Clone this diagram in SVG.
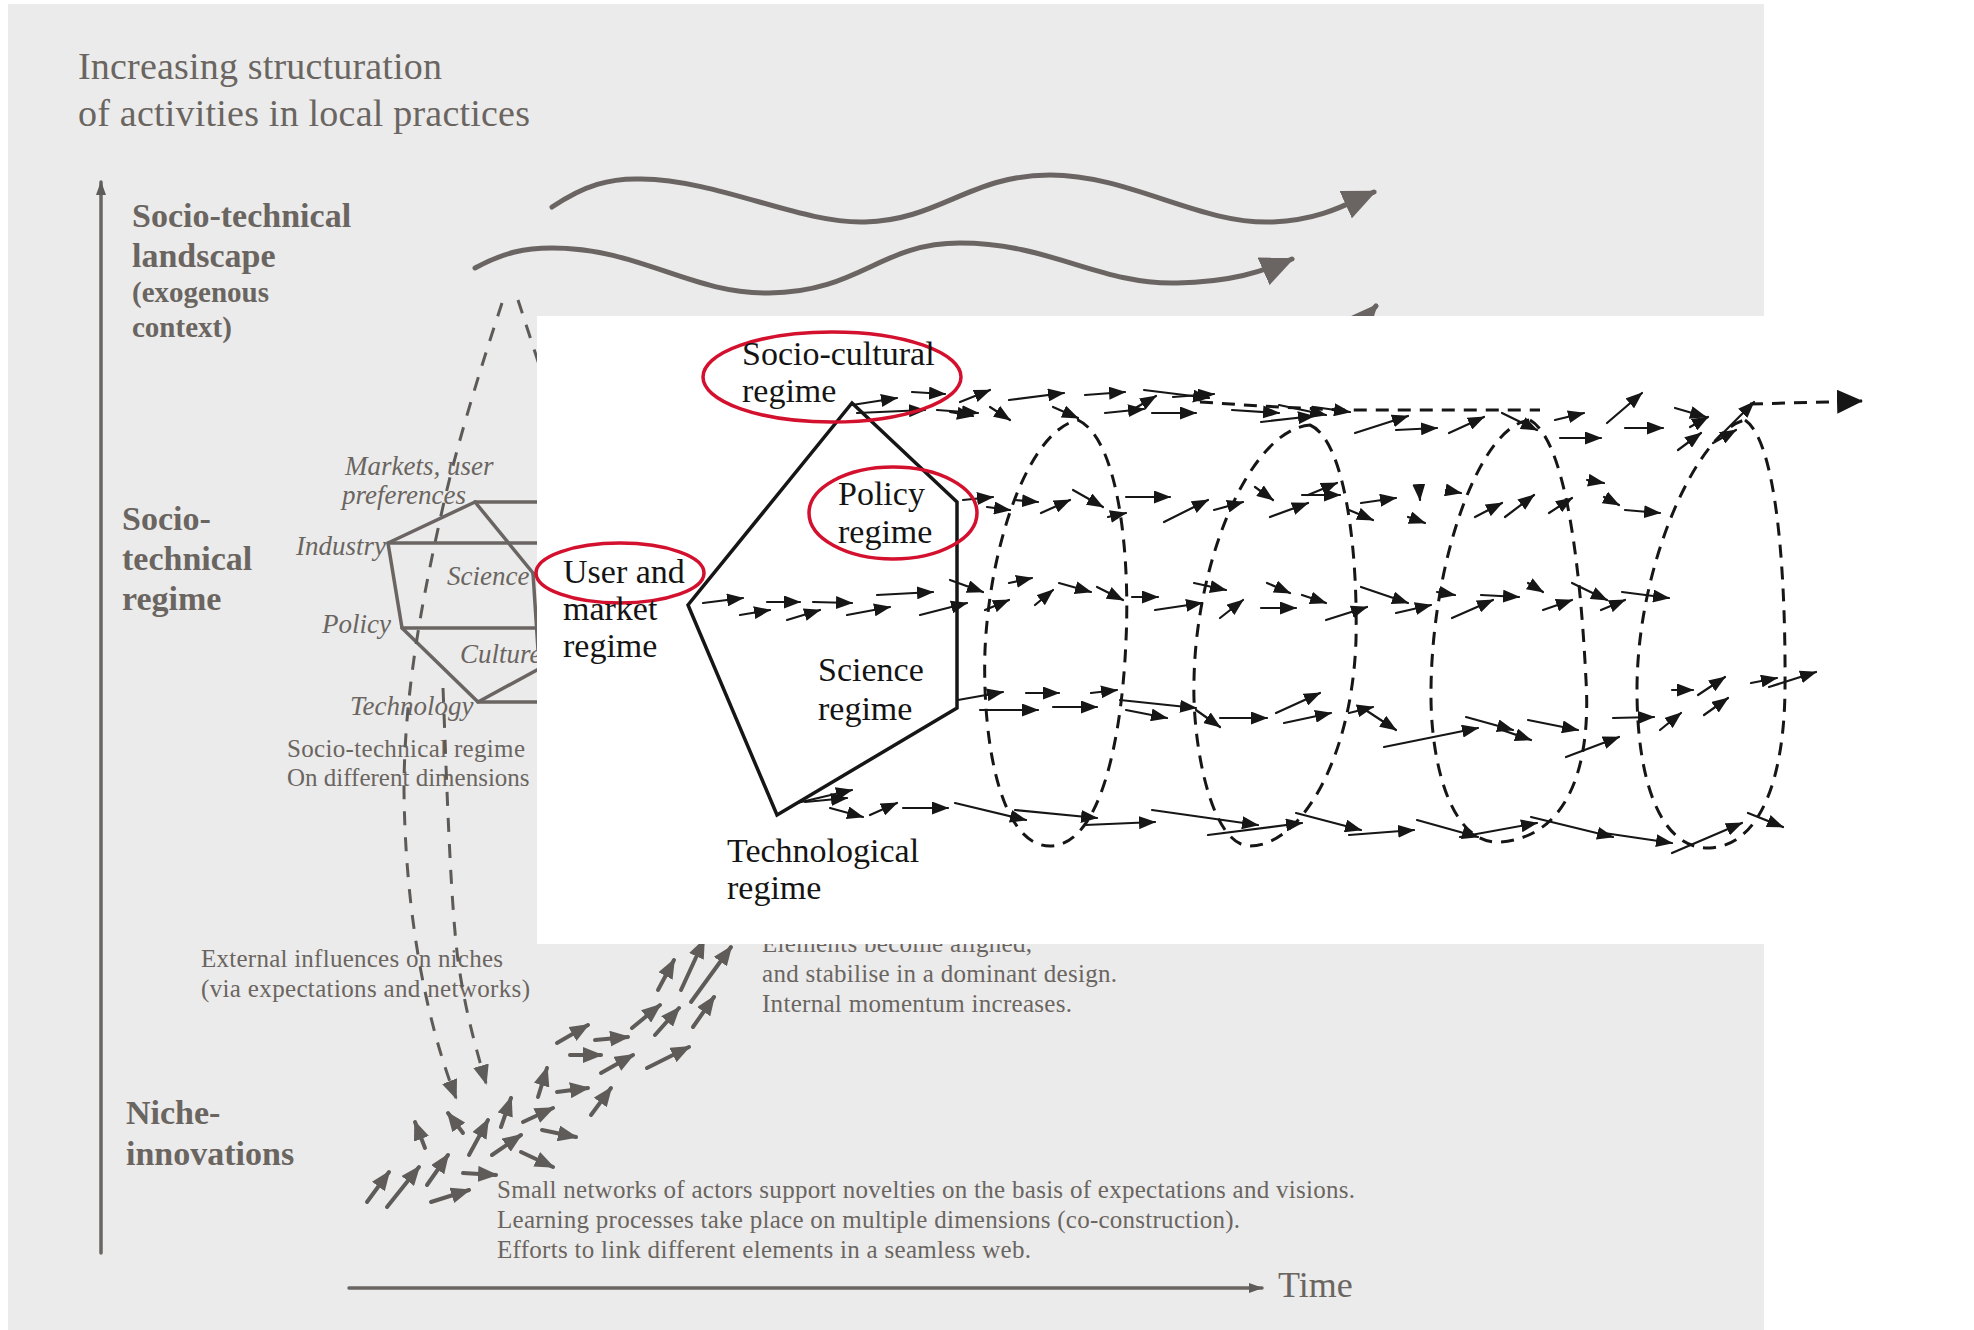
<svg xmlns="http://www.w3.org/2000/svg" width="1974" height="1330" viewBox="0 0 1974 1330">
<style>
.gt{font-family:"Liberation Serif","Times New Roman",serif;fill:#6a6560}
.gb{font-family:"Liberation Serif","Times New Roman",serif;fill:#6a6560;font-weight:bold;font-size:34px}
.gbs{font-family:"Liberation Serif","Times New Roman",serif;fill:#6a6560;font-weight:bold;font-size:29px}
.gi{font-family:"Liberation Serif","Times New Roman",serif;fill:#6a6560;font-style:italic;font-size:27px}
.bt{font-family:"Liberation Serif","Times New Roman",serif;fill:#141414;font-size:34px}
.gl{fill:none;stroke:#6a6562;stroke-width:3.5;stroke-linecap:round;stroke-linejoin:round}
.wave{fill:none;stroke:#6a6562;stroke-width:5;stroke-linecap:round}
.gd{fill:none;stroke:#5e5a58;stroke-width:3;stroke-dasharray:14 12}
.ga path{fill:none;stroke:#5f5b59;stroke-width:4;stroke-linecap:round}
.ba path{fill:none;stroke:#161616;stroke-width:2.2;stroke-linecap:round}
.td{fill:none;stroke:#161616;stroke-width:3;stroke-dasharray:13 9}
.red{fill:none;stroke:#d3102d;stroke-width:3.5}
.pent{fill:none;stroke:#161616;stroke-width:3.5;stroke-linejoin:miter}
</style>
<defs>
<marker id="ah-g" markerUnits="userSpaceOnUse" markerWidth="20" markerHeight="16" refX="18" refY="8" orient="auto"><path d="M0,0 L20,8 L0,16 z" fill="#5f5b59"/></marker>
<marker id="ah-gs" markerUnits="userSpaceOnUse" markerWidth="14" markerHeight="10" refX="13" refY="5" orient="auto"><path d="M0,0 L14,5 L0,10 z" fill="#5f5b59"/></marker>
<marker id="ah-w" markerUnits="userSpaceOnUse" markerWidth="34" markerHeight="30" refX="31" refY="15" orient="auto"><path d="M0,0 L34,15 L0,30 z" fill="#6a6562"/></marker>
<marker id="ah-b" markerUnits="userSpaceOnUse" markerWidth="17" markerHeight="13" refX="16" refY="6.5" orient="auto"><path d="M0,0 L17,6.5 L0,13 z" fill="#161616"/></marker>
<marker id="ah-big" markerUnits="userSpaceOnUse" markerWidth="26" markerHeight="24" refX="25" refY="12" orient="auto"><path d="M0,0 L26,12 L0,24 z" fill="#161616"/></marker>
</defs>

<rect x="0" y="0" width="1974" height="1330" fill="#ffffff"/>
<rect id="background" x="8" y="4" width="1756" height="1326" fill="#ebebeb"/>

<g id="axes">
<path class="gl" d="M101,1253 V182" stroke-width="2.5" marker-end="url(#ah-gs)"/>
<path class="gl" d="M349,1288 H1262" stroke-width="2.5" marker-end="url(#ah-gs)"/>
<text class="gt" x="78" y="79" font-size="38" textLength="364">Increasing structuration</text>
<text class="gt" x="78" y="126" font-size="38" textLength="452">of activities in local practices</text>
<text class="gt" x="1278" y="1297" font-size="36">Time</text>
</g>

<g id="landscape">
<text class="gb" x="132" y="227">Socio-technical</text>
<text class="gb" x="132" y="267">landscape</text>
<text class="gbs" x="132" y="302">(exogenous</text>
<text class="gbs" x="132" y="337">context)</text>
<path class="wave" d="M552,207 C585,185 610,178 641,179 C720,180 800,224 865,222 C940,220 970,175 1050,175 C1130,175 1200,225 1273,222 C1320,220 1345,205 1374,192" marker-end="url(#ah-w)"/>
<path class="wave" d="M475,268 C505,252 525,248 552,248 C640,248 690,294 769,293 C860,292 880,243 960,243 C1050,243 1100,285 1177,283 C1230,282 1262,272 1292,259" marker-end="url(#ah-w)"/>
<path class="wave" d="M560,380 C650,340 750,370 850,400 C950,430 1000,360 1080,355 C1180,350 1250,390 1310,368 C1335,358 1352,333 1376,306" marker-end="url(#ah-w)"/>
</g>

<g id="regime-gray">
<text class="gb" x="122" y="530">Socio-</text>
<text class="gb" x="122" y="570">technical</text>
<text class="gb" x="122" y="610">regime</text>
<path class="gl" d="M475,502 L388,543 L402,628 L478,702 L570,652"/>
<path class="gl" d="M475,502 L533,573 L538,650"/>
<path class="gl" d="M475,502 H570" stroke-width="5"/>
<path class="gl" d="M388,543 H570"/>
<path class="gl" d="M533,574 H570" stroke-width="5"/>
<path class="gl" d="M402,628 H570"/>
<path class="gl" d="M478,702 H570"/>
<text class="gi" x="345" y="475">Markets, user</text>
<text class="gi" x="342" y="504">preferences</text>
<text class="gi" x="296" y="555">Industry</text>
<text class="gi" x="447" y="585">Science</text>
<text class="gi" x="322" y="633">Policy</text>
<text class="gi" x="460" y="663">Culture</text>
<text class="gi" x="350" y="715">Technology</text>
<text class="gt" x="287" y="757" font-size="25" textLength="238">Socio-technical regime</text>
<text class="gt" x="287" y="786" font-size="25">On different dimensions</text>
</g>

<g id="niche">
<text class="gb" x="126" y="1124">Niche-</text>
<text class="gb" x="126" y="1165">innovations</text>
<text class="gt" x="201" y="967" font-size="25" textLength="302">External influences on niches</text>
<text class="gt" x="201" y="997" font-size="25" textLength="329">(via expectations and networks)</text>
<text class="gt" x="762" y="952" font-size="25" textLength="270">Elements become aligned,</text>
<text class="gt" x="762" y="982" font-size="25" textLength="355">and stabilise in a dominant design.</text>
<text class="gt" x="762" y="1012" font-size="25" textLength="310">Internal momentum increases.</text>
<text class="gt" x="497" y="1198" font-size="25" textLength="858">Small networks of actors support novelties on the basis of expectations and visions.</text>
<text class="gt" x="497" y="1228" font-size="25" textLength="743">Learning processes take place on multiple dimensions (co-construction).</text>
<text class="gt" x="497" y="1258" font-size="25" textLength="534">Efforts to link different elements in a seamless web.</text>
<g class="ga" marker-end="url(#ah-g)">
<path d="M367,1202 L389,1172"/>
<path d="M387,1207 L419,1167"/>
<path d="M427,1185 L448,1155"/>
<path d="M431,1202 L469,1190"/>
<path d="M463,1173 L496,1175"/>
<path d="M425,1148 L415,1122"/>
<path d="M463,1133 L448,1113"/>
<path d="M469,1155 L488,1120"/>
<path d="M492,1155 L521,1135"/>
<path d="M521,1152 L553,1167"/>
<path d="M501,1127 L511,1098"/>
<path d="M523,1122 L553,1108"/>
<path d="M542,1130 L576,1137"/>
<path d="M538,1097 L547,1068"/>
<path d="M557,1092 L588,1088"/>
<path d="M591,1115 L611,1088"/>
<path d="M570,1055 L601,1055"/>
<path d="M601,1073 L633,1055"/>
<path d="M557,1043 L588,1025"/>
<path d="M595,1040 L628,1037"/>
<path d="M647,1068 L689,1047"/>
<path d="M632,1028 L660,1005"/>
<path d="M655,1035 L679,1008"/>
<path d="M693,1027 L714,997"/>
<path d="M658,990 L674,960"/>
<path d="M681,990 L704,940"/>
<path d="M691,1002 L731,947"/>
</g>
</g>

<g id="connectors">
<path class="gd" d="M518,300 L548,392"/>
<path class="gd" d="M502,303 C480,370 455,450 440,520 C420,610 404,700 404,790 C405,900 422,1010 456,1098" marker-end="url(#ah-g)"/>
<path class="gd" d="M443,688 C446,760 450,900 458,960 C465,1010 475,1045 486,1083" marker-end="url(#ah-g)"/>
</g>

<rect id="panel" x="537" y="316" width="1227" height="628" fill="#ffffff"/>

<g id="pentagon">
<path class="pent" d="M852,403 L957,502 L957,708 L777,815 L688,605 Z"/>
</g>

<g id="tube">
<path class="td" d="M1078,420 C1120,440 1130,560 1126,640 C1122,740 1100,846 1050,846 C1000,846 982,740 985,650 C990,540 1030,430 1078,420 Z"/>
<path class="td" d="M1310,425 C1345,440 1358,550 1356,640 C1352,760 1300,846 1250,846 C1210,846 1192,740 1194,680 C1196,560 1250,430 1310,425 Z"/>
<path class="td" d="M1530,420 C1565,440 1580,560 1586,680 C1592,780 1560,838 1500,842 C1450,845 1430,760 1431,690 C1432,560 1480,425 1530,420 Z"/>
<path class="td" d="M1745,420 C1775,440 1786,560 1785,690 C1784,780 1760,845 1710,848 C1660,850 1637,780 1637,690 C1637,560 1700,430 1745,420 Z"/>
<path class="td" d="M1200,402 L1260,406 L1340,410 L1540,410"/>
<path class="td" d="M1750,404 L1862,401" marker-end="url(#ah-big)"/>
<g class="ba" marker-end="url(#ah-b)">
<path d="M852,405 L897,398"/>
<path d="M857,413 L925,410"/>
<path d="M912,392 L945,394"/>
<path d="M937,410 L978,413"/>
<path d="M960,402 L990,390"/>
<path d="M990,407 L1010,420"/>
<path d="M950,412 L973,416"/>
<path d="M1009,400 L1064,393"/>
<path d="M1053,407 L1078,418"/>
<path d="M1085,395 L1125,392"/>
<path d="M1105,413 L1144,409"/>
<path d="M1144,390 L1209,398"/>
<path d="M1132,410 L1156,396"/>
<path d="M1152,413 L1196,413"/>
<path d="M1173,397 L1214,394"/>
<path d="M1232,410 L1279,413"/>
<path d="M1261,422 L1314,416"/>
<path d="M1279,405 L1326,415"/>
<path d="M1314,407 L1350,412"/>
<path d="M1355,433 L1408,416"/>
<path d="M1396,430 L1437,428"/>
<path d="M1449,433 L1484,417"/>
<path d="M1502,413 L1537,430"/>
<path d="M1555,420 L1584,413"/>
<path d="M1560,438 L1601,438"/>
<path d="M1607,423 L1642,393"/>
<path d="M1625,428 L1663,428"/>
<path d="M1675,408 L1706,417"/>
<path d="M1678,450 L1701,433"/>
<path d="M1690,427 L1708,417"/>
<path d="M1719,437 L1754,402"/>
<path d="M1713,443 L1736,430"/>
<path d="M963,500 L993,497"/>
<path d="M987,507 L1010,510"/>
<path d="M1015,500 L1038,502"/>
<path d="M1041,513 L1070,500"/>
<path d="M1073,490 L1103,507"/>
<path d="M1108,517 L1126,513"/>
<path d="M1126,497 L1170,497"/>
<path d="M1164,522 L1208,500"/>
<path d="M1214,510 L1243,502"/>
<path d="M1255,487 L1273,500"/>
<path d="M1270,517 L1308,503"/>
<path d="M1302,495 L1340,495"/>
<path d="M1308,495 L1337,483"/>
<path d="M1349,510 L1373,520"/>
<path d="M1361,503 L1396,498"/>
<path d="M1408,517 L1425,523"/>
<path d="M1419,487 L1420,500"/>
<path d="M1446,490 L1461,493"/>
<path d="M1475,517 L1502,503"/>
<path d="M1505,517 L1534,495"/>
<path d="M1549,513 L1572,498"/>
<path d="M1587,480 L1604,483"/>
<path d="M1604,497 L1619,505"/>
<path d="M1625,510 L1660,513"/>
<path d="M703,603 L743,598"/>
<path d="M740,615 L770,610"/>
<path d="M767,602 L800,602"/>
<path d="M787,620 L820,610"/>
<path d="M813,602 L852,603"/>
<path d="M847,615 L890,607"/>
<path d="M877,595 L933,592"/>
<path d="M920,615 L967,603"/>
<path d="M950,580 L983,592"/>
<path d="M985,610 L1009,600"/>
<path d="M1009,583 L1032,578"/>
<path d="M1035,605 L1053,590"/>
<path d="M1059,583 L1091,592"/>
<path d="M1097,587 L1123,600"/>
<path d="M1132,597 L1158,597"/>
<path d="M1155,610 L1202,603"/>
<path d="M1194,583 L1226,590"/>
<path d="M1220,618 L1243,600"/>
<path d="M1261,608 L1296,608"/>
<path d="M1267,583 L1290,593"/>
<path d="M1302,595 L1326,603"/>
<path d="M1326,620 L1367,607"/>
<path d="M1361,587 L1408,603"/>
<path d="M1396,613 L1431,605"/>
<path d="M1437,592 L1455,595"/>
<path d="M1452,618 L1493,600"/>
<path d="M1481,595 L1519,597"/>
<path d="M1528,583 L1543,592"/>
<path d="M1543,610 L1572,600"/>
<path d="M1572,583 L1607,600"/>
<path d="M1601,610 L1625,600"/>
<path d="M1622,592 L1669,598"/>
<path d="M958,700 L1003,692"/>
<path d="M980,710 L1038,710"/>
<path d="M1026,693 L1059,693"/>
<path d="M1053,707 L1097,707"/>
<path d="M1091,693 L1117,690"/>
<path d="M1120,700 L1196,708"/>
<path d="M1126,710 L1167,718"/>
<path d="M1196,710 L1220,727"/>
<path d="M1220,718 L1267,718"/>
<path d="M1276,713 L1320,693"/>
<path d="M1284,723 L1331,713"/>
<path d="M1349,713 L1373,707"/>
<path d="M1361,707 L1396,730"/>
<path d="M1384,747 L1478,728"/>
<path d="M1466,717 L1513,730"/>
<path d="M1502,730 L1531,740"/>
<path d="M1528,720 L1578,730"/>
<path d="M1566,757 L1619,737"/>
<path d="M1613,718 L1654,717"/>
<path d="M1660,730 L1681,713"/>
<path d="M1672,690 L1693,690"/>
<path d="M1698,695 L1725,677"/>
<path d="M1704,715 L1728,698"/>
<path d="M1751,683 L1777,678"/>
<path d="M1769,687 L1816,672"/>
<path d="M797,803 L852,790"/>
<path d="M805,802 L847,798"/>
<path d="M830,808 L863,817"/>
<path d="M870,815 L897,803"/>
<path d="M903,808 L948,808"/>
<path d="M955,803 L1026,820"/>
<path d="M1015,810 L1097,818"/>
<path d="M1085,825 L1155,822"/>
<path d="M1152,810 L1258,825"/>
<path d="M1208,835 L1302,823"/>
<path d="M1296,813 L1361,830"/>
<path d="M1349,835 L1414,830"/>
<path d="M1417,820 L1478,837"/>
<path d="M1460,837 L1537,823"/>
<path d="M1531,817 L1613,837"/>
<path d="M1604,833 L1672,843"/>
<path d="M1672,853 L1742,823"/>
<path d="M1748,813 L1783,827"/>
</g>
</g>

<g id="regime-labels">
<ellipse class="red" cx="832" cy="377" rx="129" ry="45"/>
<ellipse class="red" cx="893" cy="513" rx="84" ry="46"/>
<ellipse class="red" cx="620" cy="573" rx="84" ry="30"/>
<text class="bt" x="742" y="365">Socio-cultural</text>
<text class="bt" x="742" y="402">regime</text>
<text class="bt" x="838" y="505">Policy</text>
<text class="bt" x="838" y="543">regime</text>
<text class="bt" x="563" y="583">User and</text>
<text class="bt" x="563" y="620">market</text>
<text class="bt" x="563" y="657">regime</text>
<text class="bt" x="818" y="681">Science</text>
<text class="bt" x="818" y="720">regime</text>
<text class="bt" x="727" y="862">Technological</text>
<text class="bt" x="727" y="899">regime</text>
</g>
</svg>
